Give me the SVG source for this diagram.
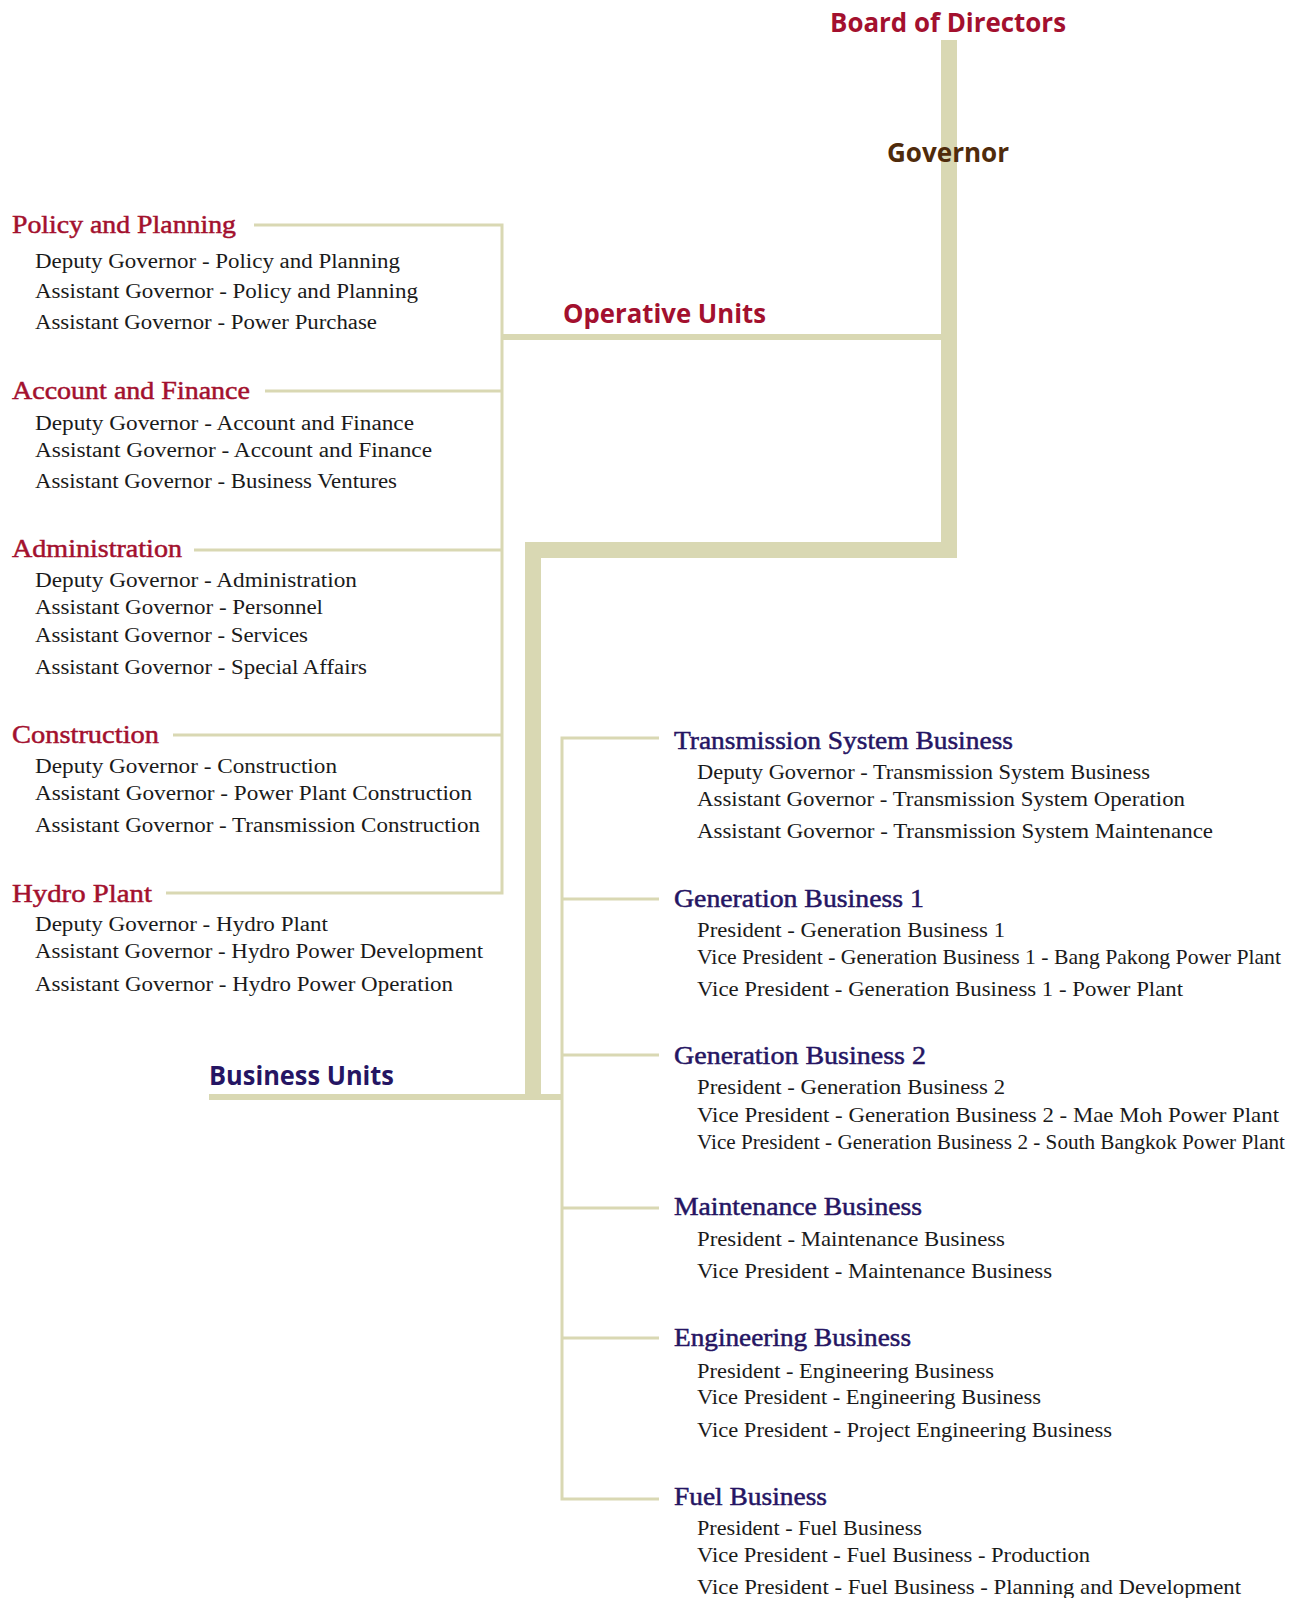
<svg xmlns="http://www.w3.org/2000/svg" width="1303" height="1598" viewBox="0 0 1303 1598">
<style>
.bar{fill:#d9d8b3}
.thin{stroke:#d9d8b3;stroke-width:3;fill:none}
.sans{font-family:"Open Sans","Liberation Sans",sans-serif;font-weight:bold;font-size:27px}
.hl{font-family:"Liberation Serif",serif;font-size:26px;fill:#a3102e;stroke:#a3102e;stroke-width:0.5}
.hr{font-family:"Liberation Serif",serif;font-size:26px;fill:#251563;stroke:#251563;stroke-width:0.5}
.bl{font-family:"Liberation Serif",serif;font-size:20px;fill:#1a1a1a}
.br{font-family:"Liberation Serif",serif;font-size:22px;fill:#1a1a1a}
.red{fill:#a3102e}
.blue{fill:#251563}
.brown{fill:#4f2b0b}
</style>
<rect width="1303" height="1598" fill="#ffffff"/>
<g id="connectors">
<rect class="bar" x="941" y="40" width="16" height="518"/>
<rect class="bar" x="525" y="542" width="432" height="16"/>
<rect class="bar" x="525" y="542" width="16" height="558"/>
<rect class="bar" x="502" y="334" width="441" height="6"/>
<rect class="bar" x="209" y="1094" width="353" height="6"/>
<path class="thin" d="M502 223.5V894.5M254 225H502M265 391H502M194 550H502M173 735H502M166 893H502"/>
<path class="thin" d="M562 736.5V1500.5M562 738H659M562 899H659M562 1055H659M562 1208H659M562 1338H659M562 1499H659"/>
</g>
<g id="board"><text class="sans red" x="830" y="32" textLength="236" lengthAdjust="spacingAndGlyphs">Board of Directors</text></g>
<g id="governor"><text class="sans brown" x="887" y="162" textLength="122" lengthAdjust="spacingAndGlyphs">Governor</text></g>
<g id="operative-units"><text class="sans red" x="563" y="323" textLength="203" lengthAdjust="spacingAndGlyphs">Operative Units</text></g>
<g id="business-units"><text class="sans blue" x="209" y="1085" textLength="185" lengthAdjust="spacingAndGlyphs">Business Units</text></g>
<g id="policy-planning">
<text class="hl" x="12" y="233" textLength="224" lengthAdjust="spacingAndGlyphs">Policy and Planning</text>
<text class="bl" x="35" y="268" textLength="365" lengthAdjust="spacingAndGlyphs">Deputy Governor - Policy and Planning</text>
<text class="bl" x="35" y="298" textLength="383" lengthAdjust="spacingAndGlyphs">Assistant Governor - Policy and Planning</text>
<text class="bl" x="35" y="329" textLength="342" lengthAdjust="spacingAndGlyphs">Assistant Governor - Power Purchase</text>
</g>
<g id="account-finance">
<text class="hl" x="12" y="399" textLength="238" lengthAdjust="spacingAndGlyphs">Account and Finance</text>
<text class="bl" x="35" y="430" textLength="379" lengthAdjust="spacingAndGlyphs">Deputy Governor - Account and Finance</text>
<text class="bl" x="35" y="457" textLength="397" lengthAdjust="spacingAndGlyphs">Assistant Governor - Account and Finance</text>
<text class="bl" x="35" y="488" textLength="362" lengthAdjust="spacingAndGlyphs">Assistant Governor - Business Ventures</text>
</g>
<g id="administration">
<text class="hl" x="12" y="557" textLength="170" lengthAdjust="spacingAndGlyphs">Administration</text>
<text class="bl" x="35" y="587" textLength="322" lengthAdjust="spacingAndGlyphs">Deputy Governor - Administration</text>
<text class="bl" x="35" y="614" textLength="288" lengthAdjust="spacingAndGlyphs">Assistant Governor - Personnel</text>
<text class="bl" x="35" y="642" textLength="273" lengthAdjust="spacingAndGlyphs">Assistant Governor - Services</text>
<text class="bl" x="35" y="674" textLength="332" lengthAdjust="spacingAndGlyphs">Assistant Governor - Special Affairs</text>
</g>
<g id="construction">
<text class="hl" x="12" y="743" textLength="147" lengthAdjust="spacingAndGlyphs">Construction</text>
<text class="bl" x="35" y="773" textLength="302" lengthAdjust="spacingAndGlyphs">Deputy Governor - Construction</text>
<text class="bl" x="35" y="800" textLength="437" lengthAdjust="spacingAndGlyphs">Assistant Governor - Power Plant Construction</text>
<text class="bl" x="35" y="832" textLength="445" lengthAdjust="spacingAndGlyphs">Assistant Governor - Transmission Construction</text>
</g>
<g id="hydro-plant">
<text class="hl" x="12" y="902" textLength="140" lengthAdjust="spacingAndGlyphs">Hydro Plant</text>
<text class="bl" x="35" y="931" textLength="293" lengthAdjust="spacingAndGlyphs">Deputy Governor - Hydro Plant</text>
<text class="bl" x="35" y="958" textLength="448" lengthAdjust="spacingAndGlyphs">Assistant Governor - Hydro Power Development</text>
<text class="bl" x="35" y="991" textLength="418" lengthAdjust="spacingAndGlyphs">Assistant Governor - Hydro Power Operation</text>
</g>
<g id="transmission-system-business">
<text class="hr" x="674" y="749" textLength="339" lengthAdjust="spacingAndGlyphs">Transmission System Business</text>
<text class="br" x="697" y="779" textLength="453" lengthAdjust="spacingAndGlyphs">Deputy Governor - Transmission System Business</text>
<text class="br" x="697" y="806" textLength="488" lengthAdjust="spacingAndGlyphs">Assistant Governor - Transmission System Operation</text>
<text class="br" x="697" y="838" textLength="516" lengthAdjust="spacingAndGlyphs">Assistant Governor - Transmission System Maintenance</text>
</g>
<g id="generation-business-1">
<text class="hr" x="674" y="907" textLength="250" lengthAdjust="spacingAndGlyphs">Generation Business 1</text>
<text class="br" x="697" y="937" textLength="308" lengthAdjust="spacingAndGlyphs">President - Generation Business 1</text>
<text class="br" x="697" y="964" textLength="584" lengthAdjust="spacingAndGlyphs">Vice President - Generation Business 1 - Bang Pakong Power Plant</text>
<text class="br" x="697" y="996" textLength="486" lengthAdjust="spacingAndGlyphs">Vice President - Generation Business 1 - Power Plant</text>
</g>
<g id="generation-business-2">
<text class="hr" x="674" y="1064" textLength="252" lengthAdjust="spacingAndGlyphs">Generation Business 2</text>
<text class="br" x="697" y="1094" textLength="308" lengthAdjust="spacingAndGlyphs">President - Generation Business 2</text>
<text class="br" x="697" y="1122" textLength="582" lengthAdjust="spacingAndGlyphs">Vice President - Generation Business 2 - Mae Moh Power Plant</text>
<text class="br" x="697" y="1149" font-size="20" textLength="588" lengthAdjust="spacingAndGlyphs" style="font-size:20.5px">Vice President - Generation Business 2 - South Bangkok Power Plant</text>
</g>
<g id="maintenance-business">
<text class="hr" x="674" y="1215" textLength="248" lengthAdjust="spacingAndGlyphs">Maintenance Business</text>
<text class="br" x="697" y="1246" textLength="308" lengthAdjust="spacingAndGlyphs">President - Maintenance Business</text>
<text class="br" x="697" y="1278" textLength="355" lengthAdjust="spacingAndGlyphs">Vice President - Maintenance Business</text>
</g>
<g id="engineering-business">
<text class="hr" x="674" y="1346" textLength="237" lengthAdjust="spacingAndGlyphs">Engineering Business</text>
<text class="br" x="697" y="1378" textLength="297" lengthAdjust="spacingAndGlyphs">President - Engineering Business</text>
<text class="br" x="697" y="1404" textLength="344" lengthAdjust="spacingAndGlyphs">Vice President - Engineering Business</text>
<text class="br" x="697" y="1437" textLength="415" lengthAdjust="spacingAndGlyphs">Vice President - Project Engineering Business</text>
</g>
<g id="fuel-business">
<text class="hr" x="674" y="1505" textLength="153" lengthAdjust="spacingAndGlyphs">Fuel Business</text>
<text class="br" x="697" y="1535" textLength="225" lengthAdjust="spacingAndGlyphs">President - Fuel Business</text>
<text class="br" x="697" y="1562" textLength="393" lengthAdjust="spacingAndGlyphs">Vice President - Fuel Business - Production</text>
<text class="br" x="697" y="1594" textLength="544" lengthAdjust="spacingAndGlyphs">Vice President - Fuel Business - Planning and Development</text>
</g>
</svg>
